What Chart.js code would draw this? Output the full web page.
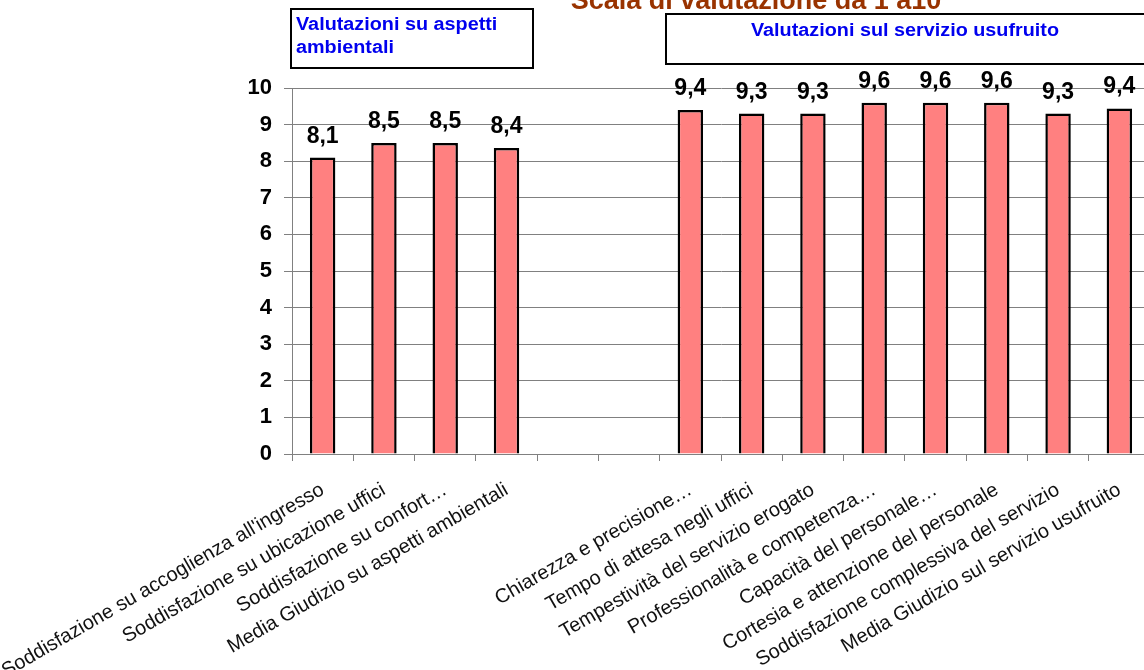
<!DOCTYPE html>
<html>
<head>
<meta charset="utf-8">
<script src="https://cdn.jsdelivr.net/npm/chart.js@4"></script>
<style>
  html, body { margin: 0; padding: 0; background: #fff; overflow: hidden; }
  #wrap { position: relative; width: 1170px; height: 670px; }
</style>
</head>
<body>
<div id="wrap"><canvas id="chart"></canvas></div>
<script>
/* ===== Data ===== */

const categories = [
  "Soddisfazione su accoglienza all'ingresso",
  "Soddisfazione su ubicazione uffici",
  "Soddisfazione su confort…",
  "Media Giudizio su aspetti ambientali",
  "",
  "",
  "Chiarezza e precisione…",
  "Tempo di attesa negli uffici",
  "Tempestività del servizio erogato",
  "Professionalità e competenza…",
  "Capacità del personale…",
  "Cortesia e attenzione del personale",
  "Soddisfazione complessiva del servizio",
  "Media Giudizio sul servizio usufruito"
];
const scores = [8.1, 8.5, 8.5, 8.36, null, null, 9.4, 9.3, 9.3, 9.6, 9.6, 9.6, 9.3, 9.44];

const chartTitle = "Scala di valutazione da 1 a10";
const ambientLines = ["Valutazioni su aspetti", "ambientali"];
const serviceLines = ["Valutazioni sul servizio usufruito"];

const FONT = "Arial, 'Liberation Sans', sans-serif";

/* ===== Value labels above bars ===== */

const valueLabels = {
  id: "valueLabels",
  afterDatasetsDraw(chart) {
    const ctx = chart.ctx;
    const meta = chart.getDatasetMeta(0);
    ctx.save();
    ctx.font = "bold 23px " + FONT;
    ctx.fillStyle = "#000";
    ctx.textAlign = "center";
    ctx.textBaseline = "alphabetic";
    meta.data.forEach((bar, i) => {
      const v = scores[i];
      if (v == null) return;
      ctx.fillText(v.toFixed(1).replace(".", ","), bar.x, bar.y - 15);
    });
    ctx.restore();
  }
};

/* ===== Title and group boxes ===== */

// text in the boxes is a bit stretched sideways in the original
function wideText(ctx, text, x, y) {
  ctx.save();
  ctx.translate(x, y);
  ctx.scale(1.1, 1);
  ctx.fillText(text, 0, 0);
  ctx.restore();
}

const headerBoxes = {
  id: "headerBoxes",
  afterDraw(chart) {
    const ctx = chart.ctx;
    ctx.save();

    ctx.font = "bold 27px " + FONT;
    ctx.fillStyle = "#993300";
    ctx.textAlign = "center";
    ctx.textBaseline = "alphabetic";
    ctx.fillText(chartTitle, 756, 9);

    ctx.strokeStyle = "#000";
    ctx.lineWidth = 2;
    ctx.strokeRect(291, 9, 242, 59);
    ctx.strokeRect(666, 14, 600, 50);

    ctx.font = "bold 18px " + FONT;
    ctx.fillStyle = "#0000ee";
    ctx.textAlign = "left";
    wideText(ctx, ambientLines[0], 296, 30);
    wideText(ctx, ambientLines[1], 296, 53);

    ctx.textAlign = "center";
    wideText(ctx, serviceLines[0], 905, 36);
    ctx.restore();
  }
};

/* ===== Chart ===== */

new Chart(document.getElementById("chart"), {
  type: "bar",
  data: {
    labels: categories,
    datasets: [{
      data: scores,
      backgroundColor: "#ff8080",
      borderColor: "#000",
      borderWidth: 2.5,
      categoryPercentage: 1,
      barPercentage: 0.415
    }]
  },
  options: {
    responsive: true,
    maintainAspectRatio: false,
    animation: false,
    layout: { padding: { left: 232, top: 88, right: 20, bottom: 0 } },
    plugins: {
      legend: { display: false },
      tooltip: { enabled: false }
    },
    scales: {
      x: {
        offset: true,
        grid: { offset: true, drawOnChartArea: false, color: "#808080", tickLength: 7 },
        border: { color: "#808080" },
        ticks: {
          autoSkip: false,
          maxRotation: 30,
          minRotation: 30,
          padding: 17,
          color: "#111",
          font: { family: FONT, size: 20 }
        },
        afterFit: s => {
          s.height = 216;
          // long first label may run off the left edge, like the original
          s.paddingLeft = 0;
          s.paddingRight = 0;
        }
      },
      y: {
        min: 0,
        max: 10,
        ticks: {
          stepSize: 1,
          padding: 12,
          color: "#000",
          font: { family: FONT, size: 22, weight: "bold" }
        },
        grid: { color: "#808080", tickLength: 8 },
        border: { color: "#808080" },
        afterFit: s => { s.width = 60; }
      }
    }
  },
  plugins: [valueLabels, headerBoxes]
});
</script>
</body>
</html>
